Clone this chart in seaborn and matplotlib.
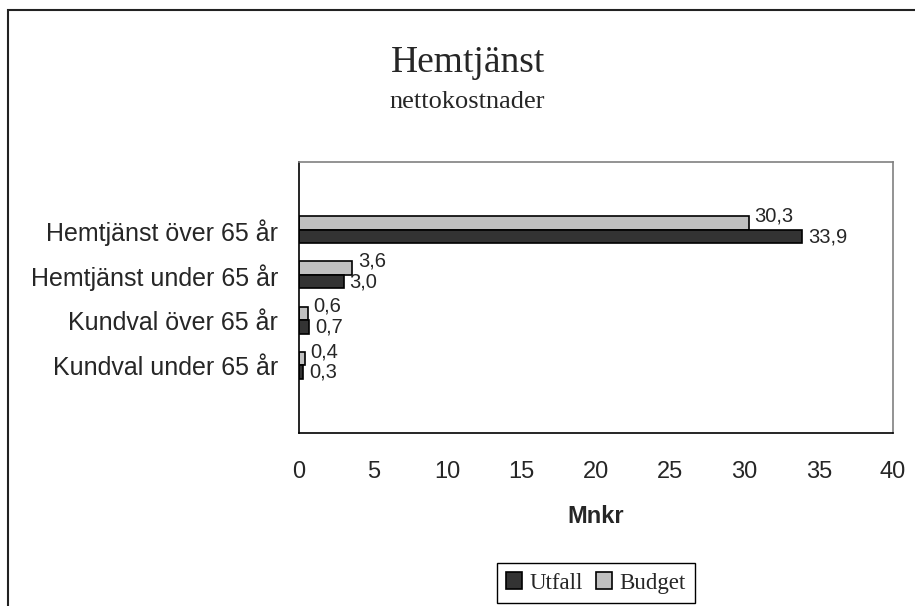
import numpy as np
import pandas as pd
import matplotlib
matplotlib.use('Agg')
import matplotlib.pyplot as plt
from matplotlib.patches import Rectangle, Patch
import seaborn as sns

# ---------------------------------------------------------
# Data
# ---------------------------------------------------------
categories = [
    "Hemtjänst över 65 år",
    "Hemtjänst under 65 år",
    "Kundval över 65 år",
    "Kundval under 65 år",
]
utfall = [33.9, 3.0, 0.7, 0.3]
budget = [30.3, 3.6, 0.6, 0.4]
series = ["Budget", "Utfall"]
legend_order = ["Utfall", "Budget"]
colors = {"Utfall": "#333333", "Budget": "#C0C0C0"}
x_ticks = [0, 5, 10, 15, 20, 25, 30, 35, 40]

df = pd.DataFrame({
    "Kategori": categories * 2,
    "Serie": ["Budget"] * len(categories) + ["Utfall"] * len(categories),
    "Mnkr": budget + utfall,
})

# ---------------------------------------------------------
# Plot
# ---------------------------------------------------------
sns.set_style("white")
plt.rcParams["font.family"] = ["Liberation Sans", "DejaVu Sans"]
serif = ["Liberation Serif", "DejaVu Serif"]

W, H = 915, 606
fig = plt.figure(figsize=(W / 100, H / 100), dpi=100)
ax = fig.add_axes([299 / W, 1 - 433 / H, (893 - 299) / W, (433 - 162) / H])

sns.barplot(data=df, x="Mnkr", y="Kategori", hue="Serie", hue_order=series,
            order=categories, palette=colors, orient="h", width=0.6,
            edgecolor="black", linewidth=1.2, saturation=1, legend=False, ax=ax)

ax.set_xlim(0, 40)
ax.set_ylim(len(categories) + 0.5, -1.5)
ax.set_xticks(x_ticks)
ax.set_xticklabels([str(t) for t in x_ticks], fontsize=17)
ax.tick_params(axis="x", direction="out", length=6, width=1, color="black", pad=14)

# slot boundaries as major ticks, category names as minor ticks
bounds = np.arange(-1.5, len(categories) + 1, 1.0)
ax.set_yticks(bounds)
ax.set_yticklabels([""] * len(bounds))
ax.set_yticks(range(len(categories)), minor=True)
ax.set_yticklabels(categories, minor=True, fontsize=18)
ax.tick_params(axis="y", which="major", direction="out", length=5, width=1, color="black")
ax.tick_params(axis="y", which="minor", length=0, pad=15)

ax.set_ylabel("")
ax.set_xlabel("Mnkr", fontsize=17, fontweight="bold", labelpad=16)

for side in ["left", "bottom"]:
    ax.spines[side].set_color("black")
    ax.spines[side].set_linewidth(1.2)
for side in ["top", "right"]:
    ax.spines[side].set_color("#808080")
    ax.spines[side].set_linewidth(1.2)

# data labels with decimal comma
for container, name in zip(ax.containers, series):
    dy = 5 if name == "Budget" else 0
    for bar in container:
        val = bar.get_width()
        ax.annotate(f"{val:.1f}".replace(".", ","),
                    (bar.get_x() + val, bar.get_y() + bar.get_height() / 2),
                    xytext=(4, dy), textcoords="offset points",
                    ha="left", va="center", fontsize=14.5)

# titles
fig.text(468 / W, 1 - 72 / H, "Hemtjänst", ha="center", va="baseline",
         fontsize=27, family=serif)
fig.text(467 / W, 1 - 108 / H, "nettokostnader", ha="center", va="baseline",
         fontsize=19, family=serif)

# legend
handles = [Patch(facecolor=colors[s], edgecolor="black", linewidth=1.2, label=s)
           for s in legend_order]
fig.legend(handles=handles, loc="center", bbox_to_anchor=(596 / W, 1 - 583 / H),
           ncol=2, frameon=True, fancybox=False, edgecolor="black",
           prop={"family": serif, "size": 16.5}, handlelength=0.7, handleheight=0.7,
           handletextpad=0.3, columnspacing=0.6, borderpad=0.4, framealpha=1)

# outer chart frame (right and bottom edges are outside the picture)
fig.add_artist(Rectangle((8 / W, -0.05), 1.1, 1 - 10 / H + 0.05,
                         transform=fig.transFigure, fill=False,
                         edgecolor="#222222", linewidth=1.5))

fig.savefig("out.png", dpi=100)
